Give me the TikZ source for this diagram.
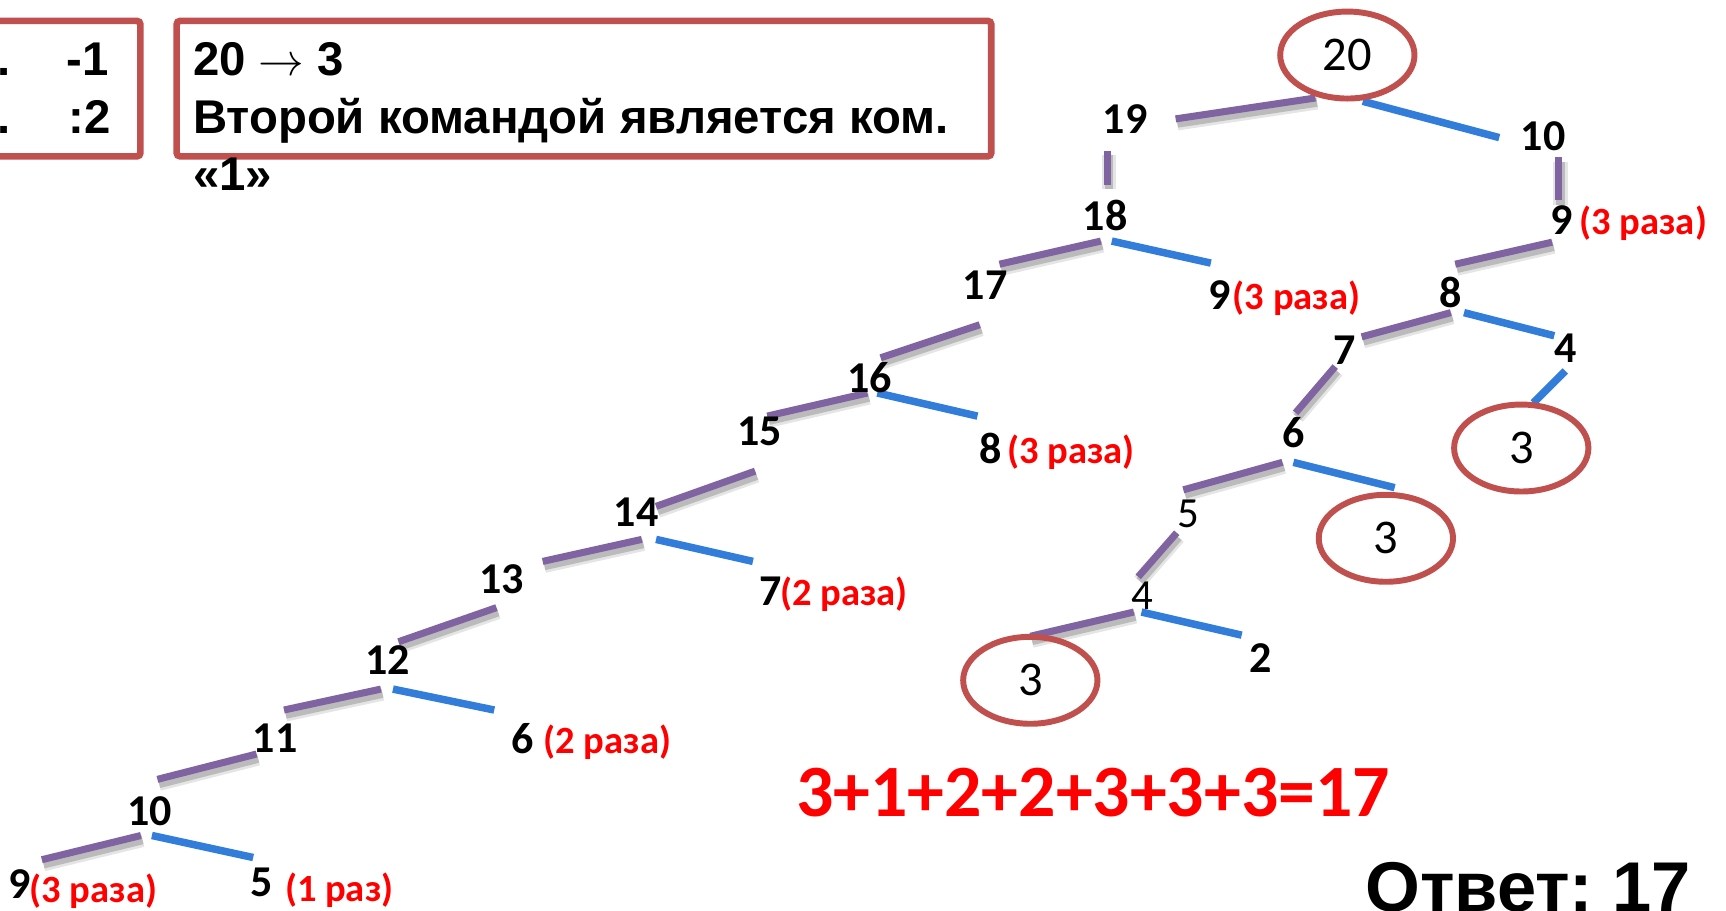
\documentclass[tikz,border=0pt]{standalone}
\usepackage{fontspec}
\setmainfont{Carlito}
\newfontfamily\arial{Liberation Sans}
\usetikzlibrary{shapes.geometric,calc}
\definecolor{lpurple}{RGB}{128,100,162}
\definecolor{lblue}{RGB}{50,125,218}
\definecolor{bred}{RGB}{192,80,77}
\definecolor{tred}{RGB}{255,0,0}
\begin{document}
\begin{tikzpicture}[x=0.5pt,y=-0.5pt,
  pl/.style={line width=3.2pt,draw=lpurple,
    preaction={draw=black,opacity=0.10,line width=6.5pt,transform canvas={shift={(1.5,4)}}},
    preaction={draw=black,opacity=0.18,line width=4pt,transform canvas={shift={(1.5,4)}}}},
  bl/.style={line width=3.4pt,draw=lblue},
  num/.style={inner sep=0pt,font=\fontsize{20}{22}\selectfont\bfseries},
  rnum/.style={inner sep=0pt,font=\fontsize{19.5}{21}\selectfont},
  lbl/.style={inner sep=0pt,text=tred,font=\fontsize{17.5}{20}\selectfont\bfseries},
  ell/.style={ellipse,draw=bred,line width=2.7pt,minimum width=61pt,minimum height=39.5pt,inner sep=0pt,font=\fontsize{22}{24}\selectfont},
  box/.style={draw=bred,line width=3pt,rounded corners=1.5pt},
  btxt/.style={inner sep=0pt,font=\arial\fontsize{21.5}{24}\selectfont\bfseries}
]
\useasboundingbox (0,0) rectangle (1568,827);
\clip (0,0) rectangle (1568,827);
\fill[white] (0,0) rectangle (1568,827);

% boxes
\node[box,minimum width=70pt,minimum height=61.5pt,inner sep=0pt] (boxL) at (57.5,80.5) {};
\node[box,minimum width=370pt,minimum height=61.5pt,inner sep=0pt] (boxR) at (530.5,80.5) {};
\node[btxt,anchor=base east] (l1n) at (10,69) {1.};
\node[btxt,anchor=base west] (l1c) at (60,69) {-1};
\node[btxt,anchor=base east] (l2n) at (10,121) {2.};
\node[btxt,anchor=base west] (l2c) at (62,121) {:2};
\node[btxt,anchor=base west] (t1) at (175,69) {20 $\rightarrow$ 3};
\node[btxt,anchor=base west] (t2) at (175,121) {Второй командой является ком.};
\node[btxt,anchor=base west] (t3) at (175,173) {«1»};

% segments
\foreach \i/\xa/\ya/\xb/\yb/\s in {
 1/1195/89/1068/108/pl, 2/1238/92/1362/125/bl, 3/1006/137/1006/168/pl,
 4/1416/143/1416/182/pl, 5/1000/219/908/240/pl, 6/1010/219/1100/239/bl,
 7/1410/220/1322/240/pl, 8/890/295/800/325/pl, 9/1318/284/1237/306/pl,
 10/1330/284/1412/305/bl, 11/1213/333/1177/375/pl, 12/1422/337/1393/366/bl,
 13/788/357/697/378/pl, 14/797/357/888/378/bl, 15/1165/420/1075/445/pl,
 16/1175/420/1267/443/bl, 17/686/428/596/460/pl, 18/1069/484/1034/524/pl,
 19/583/490/493/510/pl, 20/596/490/684/510/bl, 21/1030/556/936/578/pl,
 22/1037/556/1128/577/bl, 23/451/552/362/583/pl, 24/346/626/258/645/pl,
 25/357/626/449/645/bl, 26/233/685/143/708/pl, 27/128/759/38/781/pl,
 28/138/759/230/779/bl}{
  \coordinate (s\i a) at (\xa,\ya);
  \coordinate (s\i b) at (\xb,\yb);
  \draw[\s] (s\i a) -- (s\i b);
}

% ellipses
\node[ell] (e20) at (1224,50) {20};
\node[ell] (e3a) at (1382,407) {3};
\node[ell] (e3b) at (1259,489) {3};
\node[ell] (e3c) at (936,618) {3};

% numbers
\node[num] (n19) at (1022,108) {19};
\node[num] (n10a) at (1402,124) {10};
\node[num] (n18) at (1004,196) {18};
\node[num] (n9a) at (1419,200) {9};
\node[num] (n17) at (895,259) {17};
\node[num] (n9b) at (1108,268) {9};
\node[num] (n8a) at (1318,266) {8};
\node[num] (n16) at (790,343) {16};
\node[num] (n7a) at (1222,318) {7};
\node[num] (n4a) at (1422,316) {4};
\node[num] (n6a) at (1175,393) {6};
\node[num] (n15) at (690,392) {15};
\node[num] (n8b) at (900,407) {8};
\node[rnum] (n5a) at (1080,467) {5};
\node[num] (n14) at (578,465) {14};
\node[rnum] (n4b) at (1038,541) {4};
\node[num] (n13) at (456,526) {13};
\node[num] (n7b) at (700,537) {7};
\node[num] (n2) at (1145,598) {2};
\node[num] (n12) at (352,600) {12};
\node[num] (n11) at (250,671) {11};
\node[num] (n6b) at (475,671) {6};
\node[num] (n10b) at (136,737) {10};
\node[num] (n9c) at (18,803) {9};
\node[num] (n5b) at (238,802) {5};

% red labels
\node[lbl,anchor=base west] (L9a) at ([xshift=2.5pt]n9a.base east) {(3 раза)};
\node[lbl,anchor=base west] (L9b) at ([xshift=0.5pt]n9b.base east) {(3 раза)};
\node[lbl,anchor=base west] (L8b) at ([xshift=2pt]n8b.base east) {(3 раза)};
\node[lbl,anchor=base west] (L7b) at ([xshift=-1pt]n7b.base east) {(2 раза)};
\node[lbl,anchor=base west] (L6b) at ([xshift=4pt]n6b.base east) {(2 раза)};
\node[lbl,anchor=base west] (L9c) at ([xshift=-1pt,yshift=-2pt]n9c.base east) {(3 раза)};
\node[lbl,anchor=base west] (L5b) at ([xshift=5pt,yshift=-2pt]n5b.base east) {(1 раз)};

% sum and answer
\node[inner sep=0pt,text=tred,font=\fontsize{33.5}{36}\selectfont\bfseries] (sum) at (993,720) {3+1+2+2+3+3+3=17};
\node[btxt,anchor=base west,font=\arial\fontsize{32}{36}\selectfont\bfseries] (ans) at (1240,828) {Ответ:\kern-3pt{} 17};
\end{tikzpicture}
\end{document}
